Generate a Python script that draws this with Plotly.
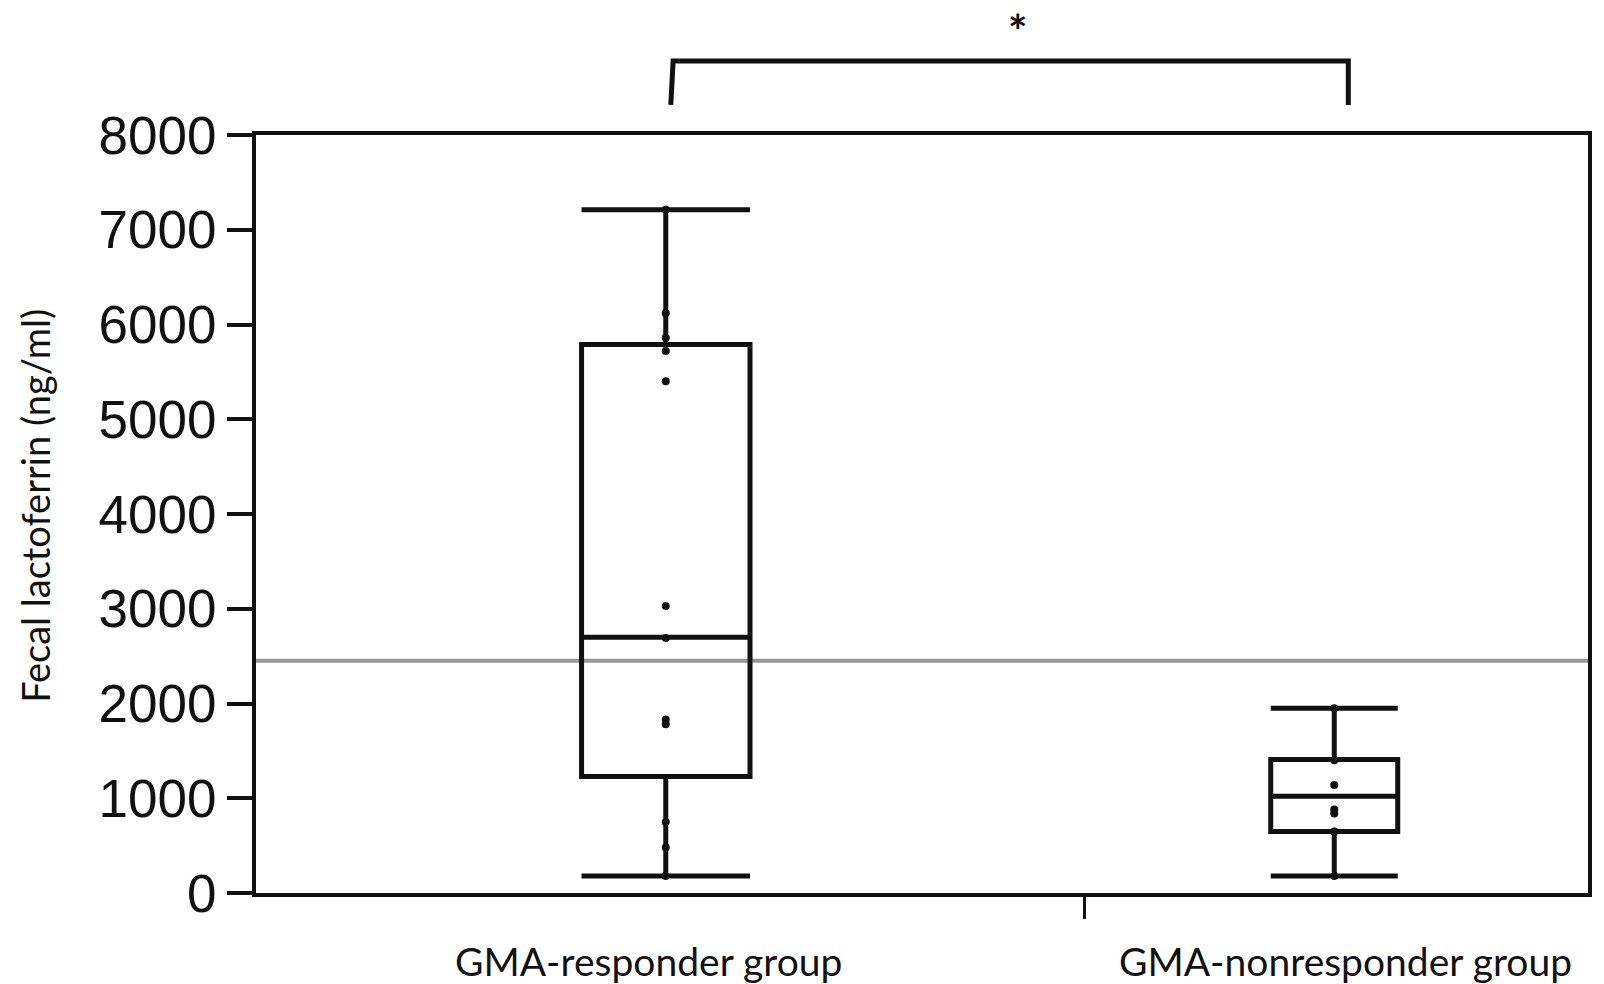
import plotly.graph_objects as go

# Groups and their five-number summaries (ng/ml)
groups = ["GMA-responder group", "GMA-nonresponder group"]
group_pos = [0, 1]
lower_fence = [180, 180]
q1 = [1230, 650]
median = [2700, 1020]
q3 = [5790, 1410]
upper_fence = [7210, 1950]
box_widths = [0.252, 0.19]

# Individual patient values
responder_values = [7210, 6120, 5860, 5720, 5400, 3030, 2690, 1830, 1780, 750, 480, 180]
nonresponder_values = [1950, 1400, 1140, 880, 840, 650, 180]

# Cut-off reference level
cutoff = 2450

y_ticks = [0, 1000, 2000, 3000, 4000, 5000, 6000, 7000, 8000]

fig = go.Figure()

for i in range(2):
    fig.add_trace(go.Box(
        x=[group_pos[i]],
        q1=[q1[i]], median=[median[i]], q3=[q3[i]],
        lowerfence=[lower_fence[i]], upperfence=[upper_fence[i]],
        width=box_widths[i],
        whiskerwidth=1,
        boxpoints=False,
        fillcolor="rgba(0,0,0,0)",
        line=dict(color="#111111", width=5),
        showlegend=False,
        hoverinfo="skip",
    ))

fig.add_trace(go.Scatter(
    x=[group_pos[0]] * len(responder_values) + [group_pos[1]] * len(nonresponder_values),
    y=responder_values + nonresponder_values,
    mode="markers",
    marker=dict(color="#111111", size=8),
    showlegend=False,
    cliponaxis=False,
))

# Horizontal cut-off line across the whole plot
fig.add_shape(type="line", xref="paper", yref="y", x0=0, x1=1, y0=cutoff, y1=cutoff,
              line=dict(color="#989898", width=4), layer="below")

# Significance bracket between the two groups
y_top, y_bot = 1.0976, 1.0396
fig.add_shape(type="path", xref="x", yref="paper",
              path=f"M 0.0075,{y_bot} L 0.011,{y_top} L 1.021,{y_top} L 1.021,{y_bot}",
              line=dict(color="#111111", width=5))
fig.add_annotation(x=0.527, y=1.1385, xref="x", yref="paper", text="<b>*</b>",
                   xanchor="center", yanchor="middle", showarrow=False,
                   font=dict(family="Lato", size=46, color="#111111"))

# Group labels
label_shift = [-17, 11]
for i in range(2):
    fig.add_annotation(x=group_pos[i], y=-0.0897, xref="x", yref="paper",
                       text=groups[i], showarrow=False, xshift=label_shift[i],
                       xanchor="center", yanchor="middle",
                       font=dict(family="Lato", size=39, color="#111111"))

# Y-axis title
fig.add_annotation(x=-0.166, y=0.5106, xref="paper", yref="paper",
                   text="Fecal lactoferrin (ng/ml)", textangle=-90, showarrow=False,
                   xanchor="center", yanchor="middle",
                   font=dict(family="Lato", size=38, color="#111111"))

fig.update_layout(
    width=1604, height=984,
    margin=dict(l=256, r=12, t=135, b=91),
    paper_bgcolor="white", plot_bgcolor="white",
    boxmode="overlay",
)
fig.update_xaxes(
    range=[-0.613, 1.3796],
    showgrid=False, zeroline=False,
    showline=True, mirror=True, linecolor="#111111", linewidth=4,
    tickvals=[0.627], ticktext=[""],
    ticks="outside", ticklen=22, tickwidth=3, tickcolor="#111111",
)
fig.update_yaxes(
    range=[0, 8000],
    tickvals=y_ticks, ticktext=[str(v) for v in y_ticks],
    showgrid=False, zeroline=False,
    showline=True, mirror=True, linecolor="#111111", linewidth=4,
    ticks="outside", ticklen=25, tickwidth=4, tickcolor="#111111",
    tickfont=dict(family="Liberation Sans", size=53, color="#111111"),
)

fig.write_html("out.html")
